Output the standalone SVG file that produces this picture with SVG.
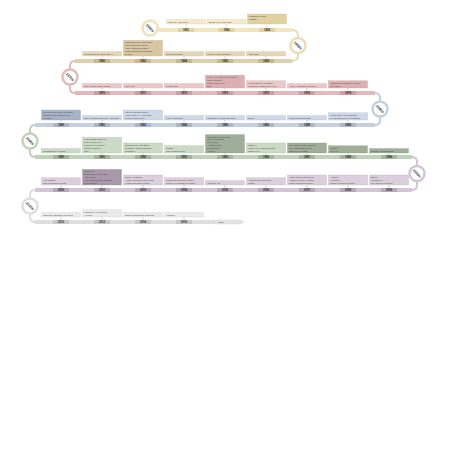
<svg xmlns="http://www.w3.org/2000/svg" width="453" height="453" viewBox="0 0 453 453">
<style>
.bt{font-family:"Liberation Sans",Arial,sans-serif;font-size:2.3px;fill:#4a4a4a}
.yr{font-family:"Liberation Sans",Arial,sans-serif;font-size:2.8px;font-weight:bold;fill:#2a2a2a;text-anchor:middle}
.bd{font-family:"Liberation Sans",Arial,sans-serif;font-size:3.6px;font-weight:bold;fill:#333;text-anchor:middle}
.tk{stroke-width:0.4}
.cn{fill:none;stroke-width:2}
.bg{fill:#fff;stroke-width:2.4}
.r1 .b{fill:#f4e9cb;stroke:#dccb9c;stroke-width:0.3}.r1 .d{fill:#e0d0a2;stroke:#cdb98f;stroke-width:0.3}.r1 .tk{stroke:#cdb98f}.r1 .s{fill:#e3d1a0}
.r2 .b{fill:#e4d5b8;stroke:#cdb98f;stroke-width:0.3}.r2 .d{fill:#d9c7a3;stroke:#c2ac80;stroke-width:0.3}.r2 .tk{stroke:#b9a37a}.r2 .s{fill:#cbb68c}
.r3 .b{fill:#e9c8c8;stroke:#d4a4a6;stroke-width:0.3}.r3 .d{fill:#dcb0b2;stroke:#c99497;stroke-width:0.3}.r3 .tk{stroke:#c48e92}.r3 .s{fill:#cf9ea2}
.r4 .b{fill:#ced8e6;stroke:#a9b6cc;stroke-width:0.3}.r4 .d{fill:#a7b3c8;stroke:#8f9cb3;stroke-width:0.3}.r4 .tk{stroke:#8f9cb3}.r4 .s{fill:#a9b6cc}
.r5 .b{fill:#cbdac5;stroke:#a5b79e;stroke-width:0.3}.r5 .d{fill:#9eae98;stroke:#86977f;stroke-width:0.3}.r5 .tk{stroke:#86977f}.r5 .s{fill:#a2b59a}
.r6 .b{fill:#dbcfdc;stroke:#b8a8ba;stroke-width:0.3}.r6 .d{fill:#a898aa;stroke:#908092;stroke-width:0.3}.r6 .tk{stroke:#908092}.r6 .s{fill:#b8a6ba}
.r7 .b{fill:#eaeaea;stroke:#c8c8c8;stroke-width:0.3}.r7 .tk{stroke:#aaaaaa}.r7 .s{fill:#c8c8c8}
</style>
<rect width="453" height="453" fill="#ffffff"/>

<g id="connectors">
  <rect x="158" y="28" width="134" height="4" fill="#f2e5bf"/>
  <rect x="75" y="59" width="217" height="4" fill="#dfcfae"/>
  <rect x="75" y="91" width="300" height="4" fill="#e2b9bb"/>
  <rect x="35" y="123" width="340" height="4" fill="#c4cfe0"/>
  <rect x="35" y="155" width="377" height="4" fill="#c0d1ba"/>
  <rect x="35" y="188" width="377" height="4" fill="#d3c5d5"/>
  <rect x="35" y="220" width="179" height="4" fill="#dedede"/>
  <path class="cn" stroke="#f2e5bf" d="M150,30 L158,30"/>
  <path class="cn" stroke="#e9dbb5" d="M292,30 Q298,30 298,36 L298,55 Q298,61 292,61"/>
  <path class="cn" stroke="#e2b9bb" d="M75,61 Q70,61 70,66 L70,88 Q70,93 75,93"/>
  <path class="cn" stroke="#c4cfe0" d="M375,93 Q380,93 380,98 L380,120 Q380,125 375,125"/>
  <path class="cn" stroke="#c0d1ba" d="M35,125 Q30,125 30,130 L30,152 Q30,157 35,157"/>
  <path class="cn" stroke="#d3c5d5" d="M412,157 Q417,157 417,162 L417,185 Q417,190 412,190"/>
  <path class="cn" stroke="#dedede" d="M35,190 Q30,190 30,195 L30,217 Q30,222 35,222"/>
  <polygon points="214,220 240,220 244,222 240,224 214,224" fill="#e4e4e4" stroke="#bdbdbd" stroke-width="0.3"/>
  <text class="bt" x="218" y="222.9">Today</text>
</g>

<g id="badge-1950s"><circle class="bg" cx="150" cy="28" r="7.5" stroke="#f0e1b6"/><text class="bd" transform="translate(150,28) rotate(45)" y="1.2">1950s</text></g>
<g id="badge-1960s"><circle class="bg" cx="298" cy="45.5" r="7.5" stroke="#eadcb4"/><text class="bd" transform="translate(298,45.5) rotate(45)" y="1.2">1960s</text></g>
<g id="badge-1970s"><circle class="bg" cx="70" cy="77" r="7.5" stroke="#e2b9bb"/><text class="bd" transform="translate(70,77) rotate(45)" y="1.2">1970s</text></g>
<g id="badge-1980s"><circle class="bg" cx="380" cy="109" r="7.5" stroke="#c4cfe0"/><text class="bd" transform="translate(380,109) rotate(45)" y="1.2">1980s</text></g>
<g id="badge-1990s"><circle class="bg" cx="30" cy="141" r="7.5" stroke="#c0d1ba"/><text class="bd" transform="translate(30,141) rotate(45)" y="1.2">1990s</text></g>
<g id="badge-2000s"><circle class="bg" cx="417" cy="173.5" r="7.5" stroke="#d3c5d5"/><text class="bd" transform="translate(417,173.5) rotate(45)" y="1.2">2000s</text></g>
<g id="badge-2010s"><circle class="bg" cx="30" cy="206" r="7.5" stroke="#dedede"/><text class="bd" transform="translate(30,206) rotate(45)" y="1.2">2010s</text></g>

<g class="r1">
<g id="e1951"><rect class="b" x="166.5" y="19.6" width="39" height="4.4"/><line class="tk" x1="186" y1="24" x2="186" y2="28"/><rect class="s" x="178" y="28" width="16" height="4"/><text class="bt" x="168" y="22.6">UNIVAC I delivered</text><text class="yr" x="186" y="31">1951</text></g>
<g id="e1956"><rect class="b" x="207" y="19.6" width="39" height="4.4"/><line class="tk" x1="226.5" y1="24" x2="226.5" y2="28"/><rect class="s" x="218.5" y="28" width="16" height="4"/><text class="bt" x="208.5" y="22.6">IBM RAMAC disk drive</text><text class="yr" x="226.5" y="31">1956</text></g>
<g id="e1959"><rect class="d" x="247.5" y="14" width="39" height="10"/><line class="tk" x1="267" y1="24" x2="267" y2="28"/><rect class="s" x="259" y="28" width="16" height="4"/><text class="bt" x="249" y="17">Integrated circuit</text><text class="bt" x="249" y="19.8">COBOL</text><text class="yr" x="267" y="31">1959</text></g>
</g>

<g class="r2">
<g id="e1960"><rect class="b" x="82.5" y="51.6" width="39" height="4.4"/><line class="tk" x1="102" y1="56" x2="102" y2="59"/><rect class="s" x="94" y="59" width="16" height="4"/><text class="bt" x="84" y="54.6">Minicomputers: DEC PDP-1</text><text class="yr" x="102" y="62">1960</text></g>
<g id="e1962"><rect class="d" x="123.5" y="40.4" width="39" height="15.6"/><line class="tk" x1="143" y1="56" x2="143" y2="59"/><rect class="s" x="135" y="59" width="16" height="4"/><text class="bt" x="125" y="43.4">Spacewar! first video game</text><text class="bt" x="125" y="46.2">Time-sharing systems</text><text class="bt" x="125" y="49">ASCII standard drafted</text><text class="bt" x="125" y="51.8">Packet switching proposed</text><text class="bt" x="125" y="54.6">BASIC</text><text class="yr" x="143" y="62">1962</text></g>
<g id="e1964"><rect class="b" x="164.5" y="51.6" width="39" height="4.4"/><line class="tk" x1="184" y1="56" x2="184" y2="59"/><rect class="s" x="176" y="59" width="16" height="4"/><text class="bt" x="166" y="54.6">IBM System/360</text><text class="yr" x="184" y="62">1964</text></g>
<g id="e1965"><rect class="b" x="205.5" y="51.6" width="39" height="4.4"/><line class="tk" x1="225" y1="56" x2="225" y2="59"/><rect class="s" x="217" y="59" width="16" height="4"/><text class="bt" x="207" y="54.6">Moore's Law published</text><text class="yr" x="225" y="62">1965</text></g>
<g id="e1969"><rect class="b" x="246.5" y="51.6" width="39" height="4.4"/><line class="tk" x1="266" y1="56" x2="266" y2="59"/><rect class="s" x="258" y="59" width="16" height="4"/><text class="bt" x="248" y="54.6">ARPANET</text><text class="yr" x="266" y="62">1969</text></g>
</g>

<g class="r3">
<g id="e1970"><rect class="b" x="82.5" y="83.6" width="39" height="4.4"/><line class="tk" x1="102" y1="88" x2="102" y2="91"/><rect class="s" x="94" y="91" width="16" height="4"/><text class="bt" x="84" y="86.6">UNIX at Bell Labs, Pascal</text><text class="yr" x="102" y="94">1970</text></g>
<g id="e1971"><rect class="b" x="123.5" y="83.6" width="39" height="4.4"/><line class="tk" x1="143" y1="88" x2="143" y2="91"/><rect class="s" x="135" y="91" width="16" height="4"/><text class="bt" x="125" y="86.6">Intel 4004</text><text class="yr" x="143" y="94">1971</text></g>
<g id="e1972"><rect class="b" x="164.5" y="83.6" width="39" height="4.4"/><line class="tk" x1="184" y1="88" x2="184" y2="91"/><rect class="s" x="176" y="91" width="16" height="4"/><text class="bt" x="166" y="86.6">C language</text><text class="yr" x="184" y="94">1972</text></g>
<g id="e1973"><rect class="d" x="205.5" y="75.2" width="39" height="12.8"/><line class="tk" x1="225" y1="88" x2="225" y2="91"/><rect class="s" x="217" y="91" width="16" height="4"/><text class="bt" x="207" y="78.2">Xerox Alto, Ethernet invented</text><text class="bt" x="207" y="81">TCP/IP design</text><text class="bt" x="207" y="83.8">Mobile phone call</text><text class="bt" x="207" y="86.6">SQL</text><text class="yr" x="225" y="94">1973</text></g>
<g id="e1975"><rect class="b" x="246.5" y="80.8" width="39" height="7.2"/><line class="tk" x1="266" y1="88" x2="266" y2="91"/><rect class="s" x="258" y="91" width="16" height="4"/><text class="bt" x="248" y="83.8">Altair 8800 kit, Microsoft</text><text class="bt" x="248" y="86.6">founded by Gates and Allen</text><text class="yr" x="266" y="94">1975</text></g>
<g id="e1976"><rect class="b" x="287.5" y="83.6" width="39" height="4.4"/><line class="tk" x1="307" y1="88" x2="307" y2="91"/><rect class="s" x="299" y="91" width="16" height="4"/><text class="bt" x="289" y="86.6">Apple I computer released</text><text class="yr" x="307" y="94">1976</text></g>
<g id="e1979"><rect class="d" x="328.5" y="80.8" width="39" height="7.2"/><line class="tk" x1="348" y1="88" x2="348" y2="91"/><rect class="s" x="340" y="91" width="16" height="4"/><text class="bt" x="330" y="83.8">VisiCalc spreadsheet, Usenet</text><text class="bt" x="330" y="86.6">is created</text><text class="yr" x="348" y="94">1979</text></g>
</g>

<g class="r4">
<g id="e1980"><rect class="d" x="41.5" y="110" width="39" height="10"/><line class="tk" x1="61" y1="120" x2="61" y2="123"/><rect class="s" x="53" y="123" width="16" height="4"/><text class="bt" x="43" y="113">Sinclair ZX80 home computer</text><text class="bt" x="43" y="115.8">Seagate hard disk for PCs</text><text class="bt" x="43" y="118.6">released</text><text class="yr" x="61" y="126">1980</text></g>
<g id="e1981"><rect class="b" x="82.5" y="115.6" width="39" height="4.4"/><line class="tk" x1="102" y1="120" x2="102" y2="123"/><rect class="s" x="94" y="123" width="16" height="4"/><text class="bt" x="84" y="118.6">IBM Personal Computer, MS-DOS</text><text class="yr" x="102" y="126">1981</text></g>
<g id="e1983"><rect class="b" x="123.5" y="110" width="39" height="10"/><line class="tk" x1="143" y1="120" x2="143" y2="123"/><rect class="s" x="135" y="123" width="16" height="4"/><text class="bt" x="125" y="113">Internet adopts TCP/IP</text><text class="bt" x="125" y="115.8">Apple Lisa, C++ and GNU</text><text class="bt" x="125" y="118.6">Project announced</text><text class="yr" x="143" y="126">1983</text></g>
<g id="e1984"><rect class="b" x="164.5" y="115.6" width="39" height="4.4"/><line class="tk" x1="184" y1="120" x2="184" y2="123"/><rect class="s" x="176" y="123" width="16" height="4"/><text class="bt" x="166" y="118.6">Apple Macintosh</text><text class="yr" x="184" y="126">1984</text></g>
<g id="e1985"><rect class="b" x="205.5" y="115.6" width="39" height="4.4"/><line class="tk" x1="225" y1="120" x2="225" y2="123"/><rect class="s" x="217" y="123" width="16" height="4"/><text class="bt" x="207" y="118.6">Windows 1.0 graphical shell</text><text class="yr" x="225" y="126">1985</text></g>
<g id="e1986"><rect class="b" x="246.5" y="115.6" width="39" height="4.4"/><line class="tk" x1="266" y1="120" x2="266" y2="123"/><rect class="s" x="258" y="123" width="16" height="4"/><text class="bt" x="248" y="118.6">SGML</text><text class="yr" x="266" y="126">1986</text></g>
<g id="e1988"><rect class="b" x="287.5" y="115.6" width="39" height="4.4"/><line class="tk" x1="307" y1="120" x2="307" y2="123"/><rect class="s" x="299" y="123" width="16" height="4"/><text class="bt" x="289" y="118.6">Morris worm spreads</text><text class="yr" x="307" y="126">1988</text></g>
<g id="e1989"><rect class="b" x="328.5" y="112.8" width="39" height="7.2"/><line class="tk" x1="348" y1="120" x2="348" y2="123"/><rect class="s" x="340" y="123" width="16" height="4"/><text class="bt" x="330" y="115.8">World Wide Web proposal</text><text class="bt" x="330" y="118.6">by Tim Berners-Lee at CERN</text><text class="yr" x="348" y="126">1989</text></g>
</g>

<g class="r5">
<g id="e1990"><rect class="b" x="41.5" y="148.6" width="39" height="4.4"/><line class="tk" x1="61" y1="153" x2="61" y2="155"/><rect class="s" x="53" y="155" width="16" height="4"/><text class="bt" x="43" y="151.6">Windows 3.0 released</text><text class="yr" x="61" y="158">1990</text></g>
<g id="e1991"><rect class="b" x="82.5" y="137.4" width="39" height="15.6"/><line class="tk" x1="102" y1="153" x2="102" y2="155"/><rect class="s" x="94" y="155" width="16" height="4"/><text class="bt" x="84" y="140.4">First website goes live</text><text class="bt" x="84" y="143.2">Linux kernel 0.01</text><text class="bt" x="84" y="146">Python 0.9 released</text><text class="bt" x="84" y="148.8">Gopher protocol</text><text class="bt" x="84" y="151.6">PGP</text><text class="yr" x="102" y="158">1991</text></g>
<g id="e1992"><rect class="b" x="123.5" y="143" width="39" height="10"/><line class="tk" x1="143" y1="153" x2="143" y2="155"/><rect class="s" x="135" y="155" width="16" height="4"/><text class="bt" x="125" y="146">Windows 3.1, first SMS</text><text class="bt" x="125" y="148.8">message, JPEG standard</text><text class="bt" x="125" y="151.6">published</text><text class="yr" x="143" y="158">1992</text></g>
<g id="e1993"><rect class="b" x="164.5" y="145.8" width="39" height="7.2"/><line class="tk" x1="184" y1="153" x2="184" y2="155"/><rect class="s" x="176" y="155" width="16" height="4"/><text class="bt" x="166" y="148.8">Mosaic</text><text class="bt" x="166" y="151.6">Intel Pentium CPU</text><text class="yr" x="184" y="158">1993</text></g>
<g id="e1995"><rect class="d" x="205.5" y="134.6" width="39" height="18.4"/><line class="tk" x1="225" y1="153" x2="225" y2="155"/><rect class="s" x="217" y="155" width="16" height="4"/><text class="bt" x="207" y="137.6">Windows 95 launched</text><text class="bt" x="207" y="140.4">Java, JavaScript</text><text class="bt" x="207" y="143.2">PHP, Ruby</text><text class="bt" x="207" y="146">Amazon, eBay</text><text class="bt" x="207" y="148.8">DVD format</text><text class="bt" x="207" y="151.6">Apache</text><text class="yr" x="225" y="158">1995</text></g>
<g id="e1996"><rect class="b" x="246.5" y="143" width="39" height="10"/><line class="tk" x1="266" y1="153" x2="266" y2="155"/><rect class="s" x="258" y="155" width="16" height="4"/><text class="bt" x="248" y="146">USB 1.0</text><text class="bt" x="248" y="148.8">Nokia 9000 Communicator</text><text class="bt" x="248" y="151.6">CSS level 1</text><text class="yr" x="266" y="158">1996</text></g>
<g id="e1997"><rect class="d" x="287.5" y="143" width="39" height="10"/><line class="tk" x1="307" y1="153" x2="307" y2="155"/><rect class="s" x="299" y="155" width="16" height="4"/><text class="bt" x="289" y="146">Deep Blue beats Kasparov</text><text class="bt" x="289" y="148.8">Wi-Fi standard 802.11</text><text class="bt" x="289" y="151.6">approved by IEEE</text><text class="yr" x="307" y="158">1997</text></g>
<g id="e1998"><rect class="d" x="328.5" y="145.8" width="39" height="7.2"/><line class="tk" x1="348" y1="153" x2="348" y2="155"/><rect class="s" x="340" y="155" width="16" height="4"/><text class="bt" x="330" y="148.8">Google</text><text class="bt" x="330" y="151.6">XML 1.0</text><text class="yr" x="348" y="158">1998</text></g>
<g id="e1999"><rect class="d" x="369.5" y="148.6" width="39" height="4.4"/><line class="tk" x1="389" y1="153" x2="389" y2="155"/><rect class="s" x="381" y="155" width="16" height="4"/><text class="bt" x="371" y="151.6">Napster and Bluetooth</text><text class="yr" x="389" y="158">1999</text></g>
</g>

<g class="r6">
<g id="e2000"><rect class="b" x="41.5" y="177.8" width="39" height="7.2"/><line class="tk" x1="61" y1="185" x2="61" y2="188"/><rect class="s" x="53" y="188" width="16" height="4"/><text class="bt" x="43" y="180.8">Y2K passes</text><text class="bt" x="43" y="183.6">Dot-com bubble bursts</text><text class="yr" x="61" y="191">2000</text></g>
<g id="e2001"><rect class="d" x="82.5" y="169.4" width="39" height="15.6"/><line class="tk" x1="102" y1="185" x2="102" y2="188"/><rect class="s" x="94" y="188" width="16" height="4"/><text class="bt" x="84" y="172.4">Wikipedia</text><text class="bt" x="84" y="175.2">Windows XP, Mac OS X</text><text class="bt" x="84" y="178">Apple iPod</text><text class="bt" x="84" y="180.8">Agile Manifesto for software</text><text class="bt" x="84" y="183.6">development</text><text class="yr" x="102" y="191">2001</text></g>
<g id="e2003"><rect class="b" x="123.5" y="175" width="39" height="10"/><line class="tk" x1="143" y1="185" x2="143" y2="188"/><rect class="s" x="135" y="188" width="16" height="4"/><text class="bt" x="125" y="178">Skype, MySpace</text><text class="bt" x="125" y="180.8">AMD64 brings 64-bit to PCs</text><text class="bt" x="125" y="183.6">Human Genome Project</text><text class="yr" x="143" y="191">2003</text></g>
<g id="e2004"><rect class="b" x="164.5" y="177.8" width="39" height="7.2"/><line class="tk" x1="184" y1="185" x2="184" y2="188"/><rect class="s" x="176" y="188" width="16" height="4"/><text class="bt" x="166" y="180.8">Facebook launched, Gmail</text><text class="bt" x="166" y="183.6">Firefox 1.0 browser released</text><text class="yr" x="184" y="191">2004</text></g>
<g id="e2005"><rect class="b" x="205.5" y="180.6" width="39" height="4.4"/><line class="tk" x1="225" y1="185" x2="225" y2="188"/><rect class="s" x="217" y="188" width="16" height="4"/><text class="bt" x="207" y="183.6">YouTube, Git</text><text class="yr" x="225" y="191">2005</text></g>
<g id="e2006"><rect class="b" x="246.5" y="177.8" width="39" height="7.2"/><line class="tk" x1="266" y1="185" x2="266" y2="188"/><rect class="s" x="258" y="188" width="16" height="4"/><text class="bt" x="248" y="180.8">Amazon Web Services</text><text class="bt" x="248" y="183.6">Twitter</text><text class="yr" x="266" y="191">2006</text></g>
<g id="e2007"><rect class="b" x="287.5" y="175" width="39" height="10"/><line class="tk" x1="307" y1="185" x2="307" y2="188"/><rect class="s" x="299" y="188" width="16" height="4"/><text class="bt" x="289" y="178">Apple iPhone introduced</text><text class="bt" x="289" y="180.8">Amazon Kindle e-reader</text><text class="bt" x="289" y="183.6">Netflix streaming (2007)</text><text class="yr" x="307" y="191">2007</text></g>
<g id="e2008"><rect class="b" x="328.5" y="175" width="39" height="10"/><line class="tk" x1="348" y1="185" x2="348" y2="188"/><rect class="s" x="340" y="188" width="16" height="4"/><text class="bt" x="330" y="178">Android</text><text class="bt" x="330" y="180.8">App Store</text><text class="bt" x="330" y="183.6">Google Chrome browser</text><text class="yr" x="348" y="191">2008</text></g>
<g id="e2009"><rect class="b" x="369.5" y="175" width="39" height="10"/><line class="tk" x1="389" y1="185" x2="389" y2="188"/><rect class="s" x="381" y="188" width="16" height="4"/><text class="bt" x="371" y="178">Bitcoin</text><text class="bt" x="371" y="180.8">Windows 7</text><text class="bt" x="371" y="183.6">Go, Node.js released</text><text class="yr" x="389" y="191">2009</text></g>
</g>

<g class="r7">
<g id="e2010"><rect class="b" x="41.5" y="212.6" width="39" height="4.4"/><line class="tk" x1="61" y1="217" x2="61" y2="220"/><rect class="s" x="53" y="220" width="16" height="4"/><text class="bt" x="43" y="215.6">iPad and Instagram launched</text><text class="yr" x="61" y="223">2010</text></g>
<g id="e2012"><rect class="b" x="82.5" y="209.8" width="39" height="7.2"/><line class="tk" x1="102" y1="217" x2="102" y2="220"/><rect class="s" x="94" y="220" width="16" height="4"/><text class="bt" x="84" y="212.8">Raspberry Pi computer</text><text class="bt" x="84" y="215.6">AlexNet</text><text class="yr" x="102" y="223">2012</text></g>
<g id="e2014"><rect class="b" x="123.5" y="212.6" width="39" height="4.4"/><line class="tk" x1="143" y1="217" x2="143" y2="220"/><rect class="s" x="135" y="220" width="16" height="4"/><text class="bt" x="125" y="215.6">Swift programming language</text><text class="yr" x="143" y="223">2014</text></g>
<g id="e2016"><rect class="b" x="164.5" y="212.6" width="39" height="4.4"/><line class="tk" x1="184" y1="217" x2="184" y2="220"/><rect class="s" x="176" y="220" width="16" height="4"/><text class="bt" x="166" y="215.6">AlphaGo</text><text class="yr" x="184" y="223">2016</text></g>
</g>
</svg>
